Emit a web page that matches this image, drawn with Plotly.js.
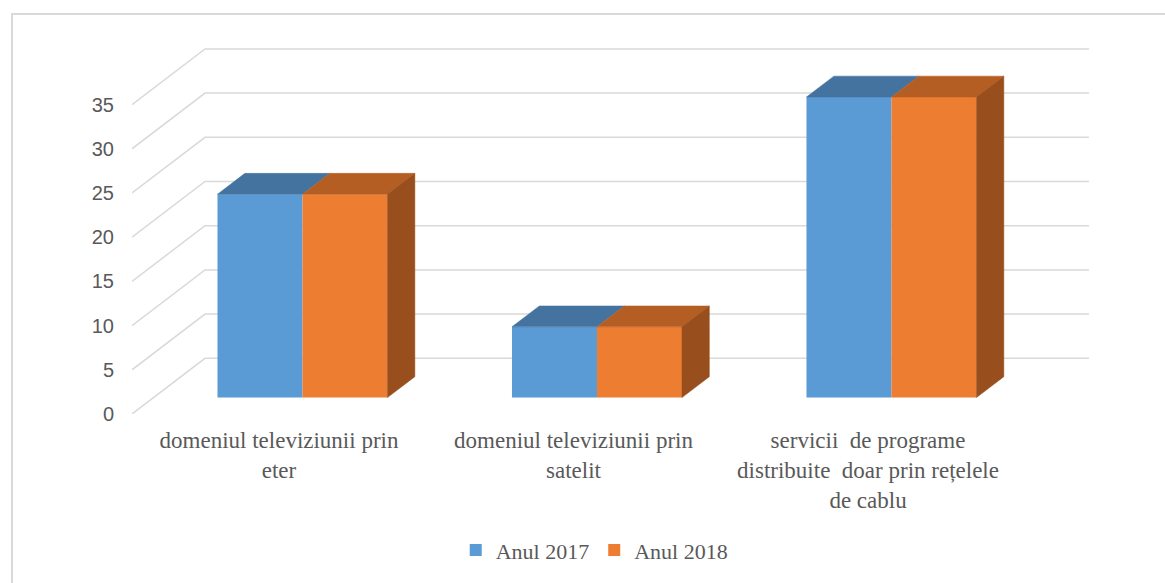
<!DOCTYPE html>
<html>
<head>
<meta charset="utf-8">
<script src="https://cdn.plot.ly/plotly-3.0.1.min.js"></script>
<style>
  html, body { margin: 0; padding: 0; overflow: hidden; background: #fff; }
  #wrap { position: relative; width: 1165px; height: 583px; overflow: hidden; }
  #chart { width: 1165px; height: 583px; }
  #frame { position: absolute; left: 11px; top: 13px; width: 1170px; height: 600px;
           border: 2px solid #d9d9d9; box-sizing: border-box; pointer-events: none; }
</style>
</head>
<body>
<div id="wrap">
  <div id="chart"></div>
  <div id="frame"></div>
</div>
<script>
// ---- data ----
const categories = [
  "domeniul televiziunii prin<br>eter",
  "domeniul televiziunii prin<br>satelit",
  "servicii\u00a0 de programe<br>distribuite\u00a0 doar prin rețelele<br>de cablu"
];
const seriesNames = ["Anul 2017", "Anul 2018"];
const values2017 = [23, 8, 34];
const values2018 = [23, 8, 34];
const yTicks = [0, 5, 10, 15, 20, 25, 30, 35];

// ---- 3D projection styling (in axis units) ----
const DEPTH_X = 0.2479;   // full depth shift along x
const DEPTH_Y = 6.302;    // full depth shift along y
const BAR_FX = 0.3214;    // bar front plane, x projection (fraction of depth)
const BAR_FY = 0.295;     // bar front plane, y projection (fraction of depth)
const BAR_DF = 0.375;     // bar depth (fraction of depth)
const BAR_W = 0.2886;     // width of each bar front
const X_MIN = -0.4992, X_MAX = 2.7504;

const colors = {
  front: ["#5B9BD5", "#ED7D31"],
  top:   ["#44739F", "#B45E23"],
  side:  ["#6A8FB5", "#984F1D"]
};

const base = BAR_FY * DEPTH_Y;
const shiftX = BAR_FX * DEPTH_X;
const ddx = BAR_DF * DEPTH_X;
const ddy = BAR_DF * DEPTH_Y;

const idx = categories.map((_, i) => i);
const seriesVals = [values2017, values2018];
const traces = [];

// front faces (bars)
seriesVals.forEach((vals, s) => {
  const centers = idx.map(i => s === 0 ? i + shiftX - BAR_W / 2 : i + shiftX + BAR_W / 2);
  traces.push({
    type: "bar",
    name: seriesNames[s],
    x: centers,
    y: vals,
    base: vals.map(() => base),
    width: BAR_W,
    marker: { color: colors.front[s], line: { width: 0 } },
    hoverinfo: "skip"
  });
});

function poly(xs, ys, color) {
  return {
    type: "scatter", mode: "lines",
    x: xs.concat([xs[0]]), y: ys.concat([ys[0]]),
    fill: "toself", fillcolor: color,
    line: { color: color, width: 0.5 },
    showlegend: false, hoverinfo: "skip"
  };
}

// top faces and right side faces
idx.forEach(i => {
  seriesVals.forEach((vals, s) => {
    const xl = s === 0 ? i + shiftX - BAR_W : i + shiftX;
    const xr = xl + BAR_W;
    const top = base + vals[i];
    traces.push(poly([xl, xr, xr + ddx, xl + ddx], [top, top, top + ddy, top + ddy], colors.top[s]));
    if (s === seriesVals.length - 1) {
      traces.push(poly([xr, xr, xr + ddx, xr + ddx], [base, top, top + ddy, base + ddy], colors.side[s]));
    }
  });
});

// gridlines on side and back walls
const shapes = yTicks.map(v => ({
  type: "path", xref: "x", yref: "y", layer: "below",
  path: `M ${X_MIN} ${v} L ${X_MIN + DEPTH_X} ${v + DEPTH_Y} L ${X_MAX} ${v + DEPTH_Y}`,
  line: { color: "#d9d9d9", width: 1.5 }
}));

const layout = {
  width: 1165, height: 583,
  margin: { l: 132, r: 76, t: 40, b: 167, pad: 0 },
  paper_bgcolor: "rgba(0,0,0,0)", plot_bgcolor: "rgba(0,0,0,0)",
  barmode: "overlay",
  showlegend: true,
  xaxis: {
    range: [X_MIN, X_MAX], showgrid: false, zeroline: false, showline: false,
    tickmode: "array", tickvals: idx, ticktext: categories, ticks: "",
    ticklabelstandoff: 10,
    tickfont: { family: "Liberation Serif, Times New Roman, serif", size: 23, color: "#595959" },
    fixedrange: true
  },
  yaxis: {
    range: [0, 42.31], showgrid: false, zeroline: false, showline: false,
    tickmode: "array", tickvals: yTicks, ticktext: yTicks.map(String), ticks: "",
    ticklabelstandoff: 17,
    tickfont: { family: "Liberation Sans, Arial, sans-serif", size: 20, color: "#595959" },
    fixedrange: true
  },
  legend: {
    orientation: "h", x: 0.483, xanchor: "center", y: -0.364, yanchor: "middle",
    font: { family: "Liberation Serif, Times New Roman, serif", size: 22, color: "#595959" },
    bgcolor: "rgba(0,0,0,0)", itemclick: false, itemdoubleclick: false
  },
  shapes: shapes
};

Plotly.newPlot("chart", traces, layout, { displayModeBar: false, staticPlot: true });
</script>
</body>
</html>
